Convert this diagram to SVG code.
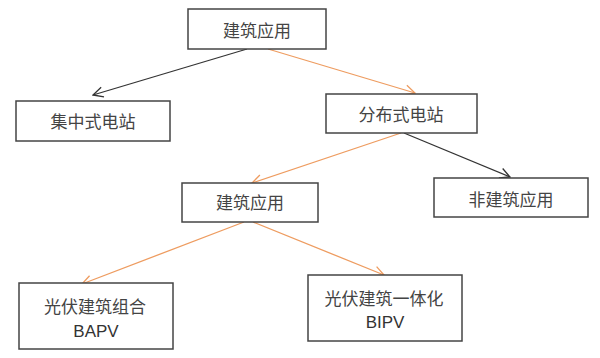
<svg xmlns="http://www.w3.org/2000/svg" width="600" height="358" viewBox="0 0 600 358">
<style>
.box{fill:#fff;stroke:#444;stroke-width:1.5}
.t{font-family:"Noto Sans CJK SC","Liberation Sans",sans-serif;font-size:17px;fill:#444;text-anchor:middle;dominant-baseline:central}
.e{font-family:"Liberation Sans",Arial,sans-serif;font-size:17px;fill:#333;text-anchor:middle;dominant-baseline:central}
.blk{stroke:#333;stroke-width:1.3;fill:none}
.org{stroke:#EE9C60;stroke-width:1.3;fill:none}
</style>
<defs>
<marker id="ab" viewBox="0 0 12 12" refX="11" refY="6" markerWidth="12" markerHeight="12" markerUnits="userSpaceOnUse" orient="auto">
<path d="M1,1 L11,6 L1,11" fill="none" stroke="#333" stroke-width="1.3"/>
</marker>
<marker id="ao" viewBox="0 0 12 12" refX="11" refY="6" markerWidth="12" markerHeight="12" markerUnits="userSpaceOnUse" orient="auto">
<path d="M1,1 L11,6 L1,11" fill="none" stroke="#EE9C60" stroke-width="1.3"/>
</marker>
</defs>
<rect width="600" height="358" fill="#fff"/>
<g id="connectors">
<line class="blk" x1="247" y1="49" x2="93" y2="95" marker-end="url(#ab)"/>
<line class="org" x1="268" y1="49" x2="415" y2="93" marker-end="url(#ao)"/>
<line class="org" x1="401" y1="133" x2="252" y2="183" marker-end="url(#ao)"/>
<line class="blk" x1="404" y1="133" x2="510" y2="177" marker-end="url(#ab)"/>
<line class="org" x1="244" y1="222" x2="82" y2="284" marker-end="url(#ao)"/>
<line class="org" x1="253" y1="222" x2="384" y2="275" marker-end="url(#ao)"/>
</g>
<g id="n1"><rect class="box" x="188" y="9" width="138" height="40"/><text class="t" x="257" y="29">建筑应用</text></g>
<g id="n2"><rect class="box" x="16" y="101" width="154" height="40"/><text class="t" x="93" y="120">集中式电站</text></g>
<g id="n3"><rect class="box" x="326" y="94" width="151" height="39"/><text class="t" x="401" y="113">分布式电站</text></g>
<g id="n4"><rect class="box" x="182" y="183" width="136" height="39"/><text class="t" x="250" y="201">建筑应用</text></g>
<g id="n5"><rect class="box" x="434" y="178" width="154" height="39"/><text class="t" x="511" y="198">非建筑应用</text></g>
<g id="n6"><rect class="box" x="19" y="283" width="154" height="66"/><text class="t" x="95" y="305">光伏建筑组合</text><text class="e" x="96" y="331">BAPV</text></g>
<g id="n7"><rect class="box" x="308" y="275" width="154" height="66"/><text class="t" x="384" y="297">光伏建筑一体化</text><text class="e" x="385" y="322">BIPV</text></g>
</svg>
